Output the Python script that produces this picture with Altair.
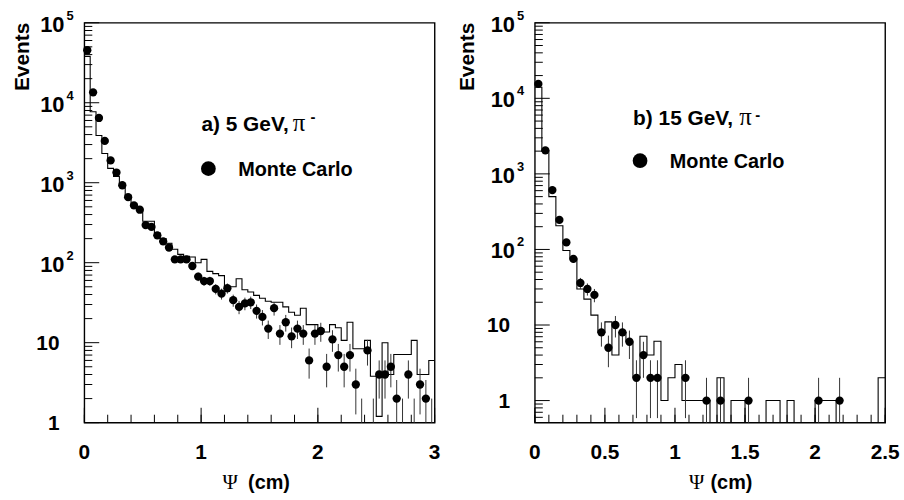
import altair as alt
import pandas as pd

W, H = 353, 403
BIN_W = 0.05
SANS = "Liberation Sans"
SERIF = "Liberation Serif"

# ---------------- panel a) 5 GeV, pi- : 60 bins of 0.05 cm ----------------
HIST_A = [38000, 7700, 3900, 2320, 1510, 1200, 900, 680, 540, 450,
          330, 330, 235, 200, 175, 147, 127, 120, 118, 100,
          110, 78, 73, 69, 50, 50, 63, 46, 43, 39,
          36, 33, 32, 32, 28, 24, 22, 27, 16.8, 16.8,
          15, 13.6, 16.8, 15.4, 10.7, 18, 8.4, 8.4, 10.7, 3.8,
          1.2, 10, 4, 7.1, 7.1, 7.1, 10.7, 4, 4, 6]
MC_A = [45300, 13500, 6450, 3330, 1900, 1340, 930, 660, 520, 460,
        295, 280, 220, 185, 155, 110, 110, 110, 91, 67,
        59, 59, 47, 41, 48, 34, 28, 31, 32, 25,
        21, 15, 27, 13, 18, 12, 15, 13, 6, 13,
        14, 5, 11, 7, 5, 7, 3, 1, 8, 1,
        4, 4, 5, 2, 1, 4, 1, 3, 2, 1]

# ---------------- panel b) 15 GeV, pi- : 50 bins of 0.05 cm ----------------
HIST_B = [14000, 2000, 500, 206, 97, 75, 30, 22, 13.5, 8,
          11, 4, 8, 6, 2, 7.1, 4, 6.1, 1, 2,
          3, 1, 1, 1, 1, 0, 2, 0, 1, 1,
          0, 0, 0, 1, 1, 0, 1, 0, 0, 0,
          1, 1, 1, 0, 0, 0, 0, 0, 0, 2]
MC_B = [15500, 2050, 610, 246, 124, 75, 36, 30, 25, 8,
        5, 10, 8, 6, 2, 4, 2, 2, None, None,
        None, 2, None, None, 1, None, 1, None, None, None,
        1, None, None, None, None, None, None, None, None, None,
        1, None, None, 1, None, None, None, None, None, None]

# ---------------- axis ticks and labels ----------------
XMAJOR_A = [0, 1, 2, 3]
XLAB_A = ["0", "1", "2", "3"]
XMINOR_A = [round(0.2 * i, 2) for i in range(16)]
XMAJOR_B = [0, 0.5, 1, 1.5, 2, 2.5]
XLAB_B = ["0", "0.5", "1", "1.5", "2", "2.5"]
XMINOR_B = [round(0.1 * i, 2) for i in range(26)]
Y_DECADES = [1, 10, 100, 1000, 10000, 100000]
Y_MINOR = [m * 10 ** d for d in range(-1, 5) for m in range(2, 10)]
Y_PLAIN = [1, 10]
Y_PLAIN_TXT = ["1", "10"]
Y_POW = [100, 1000, 10000, 100000]
Y_POW_EXP = ["2", "3", "4", "5"]


def txt(s, x, y, size=20, font=SANS, weight="bold", align="left",
        baseline="alphabetic", angle=0):
    return alt.Chart(pd.DataFrame({"t": [s]})).mark_text(
        font=font, fontSize=size, fontWeight=weight, align=align,
        baseline=baseline, color="black", angle=angle
    ).encode(text="t:N", x=alt.value(x), y=alt.value(y))


def panel(hist, mc, xmax, ymin, xmajor, xlabels, xminor, ann):
    xs = alt.Scale(domain=[0, xmax], nice=False, zero=False)
    ys = alt.Scale(type="log", domain=[ymin, 100000], nice=False)
    n = len(hist)
    hdf = pd.DataFrame({"x": [i * BIN_W for i in range(n)] + [n * BIN_W],
                        "n": list(hist) + [hist[-1]]})
    mdf = pd.DataFrame({"x": [(i + 0.5) * BIN_W for i in range(n)],
                        "n": [float("nan") if v is None else v for v in mc]}).dropna()

    step = alt.Chart(hdf).transform_calculate(
        v="max(datum.n, 0.01)"
    ).mark_line(interpolate="step-after", color="black", strokeWidth=1.1, clip=True).encode(
        x=alt.X("x:Q", scale=xs, axis=None),
        y=alt.Y("v:Q", scale=ys, axis=None),
    )

    err = alt.Chart(mdf).transform_calculate(
        lo="max(datum.n - sqrt(datum.n), 0.01)", hi="datum.n + sqrt(datum.n)"
    ).mark_rule(color="#333333", strokeWidth=1, clip=True).encode(
        x=alt.X("x:Q", scale=xs, axis=None),
        y=alt.Y("lo:Q", scale=ys, axis=None),
        y2="hi:Q",
    )

    pts = alt.Chart(mdf).transform_filter(f"datum.n > {ymin}").mark_point(
        shape="circle", filled=True, size=70, color="black", opacity=1, strokeWidth=0
    ).encode(
        x=alt.X("x:Q", scale=xs, axis=None),
        y=alt.Y("n:Q", scale=ys, axis=None),
    )

    def yticks(vals, length):
        return alt.Chart(pd.DataFrame({"v": vals})).transform_filter(
            f"datum.v >= {ymin} && datum.v <= 100000"
        ).mark_rule(color="black", strokeWidth=1).encode(
            y=alt.Y("v:Q", scale=ys, axis=None), x=alt.value(0), x2=alt.value(length))

    def xticks(vals, length):
        return alt.Chart(pd.DataFrame({"v": vals})).mark_rule(
            color="black", strokeWidth=1).encode(
            x=alt.X("v:Q", scale=xs, axis=None), y=alt.value(H), y2=alt.value(H - length))

    xlab = alt.Chart(pd.DataFrame({"v": xmajor, "t": xlabels})).mark_text(
        font=SANS, fontSize=21, fontWeight="bold", align="center", baseline="middle",
        color="black").encode(
        x=alt.X("v:Q", scale=xs, axis=None), y=alt.value(H + 31), text="t:N")
    plain = alt.Chart(pd.DataFrame({"v": Y_PLAIN, "t": Y_PLAIN_TXT})).mark_text(
        font=SANS, fontSize=21, fontWeight="bold", align="right", baseline="middle",
        dy=1, color="black").encode(
        y=alt.Y("v:Q", scale=ys, axis=None), x=alt.value(-25), text="t:N")
    powl = alt.Chart(pd.DataFrame({"v": Y_POW, "t": ["10"] * len(Y_POW)})).mark_text(
        font=SANS, fontSize=22, fontWeight="bold", align="right", baseline="middle",
        dy=2, color="black").encode(
        y=alt.Y("v:Q", scale=ys, axis=None), x=alt.value(-20), text="t:N")
    powe = alt.Chart(pd.DataFrame({"v": Y_POW, "t": Y_POW_EXP})).mark_text(
        font=SANS, fontSize=13, fontWeight="bold", align="left", baseline="middle",
        dy=-7, color="black").encode(
        y=alt.Y("v:Q", scale=ys, axis=None), x=alt.value(-18), text="t:N")

    legend_dot = alt.Chart(pd.DataFrame({"t": ["Monte Carlo"]})).mark_point(
        shape="circle", filled=True, size=220, color="black", opacity=1, strokeWidth=0
    ).encode(x=alt.value(ann["dotx"]), y=alt.value(ann["doty"]))

    layers = [
        step, err, pts,
        yticks(Y_DECADES, 15), yticks(Y_MINOR, 8),
        xticks(xmajor, 15), xticks(xminor, 8),
        xlab, plain, powl, powe,
        txt("Events", ann["evx"], 0, size=21, align="right", angle=270),
        txt(ann["label"], ann["lx"], ann["ly"], size=21),
        txt("\u03c0", ann["pix"], ann["ly"], size=25, font=SERIF, weight="normal"),
        txt("-", ann["mx"], ann["my"], size=15, weight="bold", baseline="middle"),
        legend_dot,
        txt("Monte Carlo", ann["dotx"] + 30, ann["doty"] + 1, baseline="middle"),
        txt("\u03a8", ann["psx"], H + 67, size=21, font=SERIF, weight="normal", align="center"),
        txt("(cm)", ann["cmx"], H + 67),
    ]
    return alt.layer(*layers).properties(width=W, height=H)


left = panel(HIST_A, MC_A, 3, 1, XMAJOR_A, XLAB_A, XMINOR_A,
             dict(evx=-56, label="a) 5 GeV,", lx=118, ly=109, pix=210, mx=228, my=95,
                  dotx=125, doty=147, psx=147, cmx=165))
right = panel(HIST_B, MC_B, 2.5, 0.51, XMAJOR_B, XLAB_B, XMINOR_B,
              dict(evx=-61, label="b) 15 GeV,", lx=99, ly=103, pix=206, mx=222, my=93,
                   dotx=106, doty=139, psx=163, cmx=177))

chart = alt.hconcat(left, right, spacing=101, bounds="flush").configure_view(
    stroke="black", strokeWidth=1.4
).properties(
    padding={"left": 11, "top": 7, "right": 3, "bottom": 4},
    background="white",
)

chart.save("out.html", embed_options={"renderer": "svg", "actions": False})
